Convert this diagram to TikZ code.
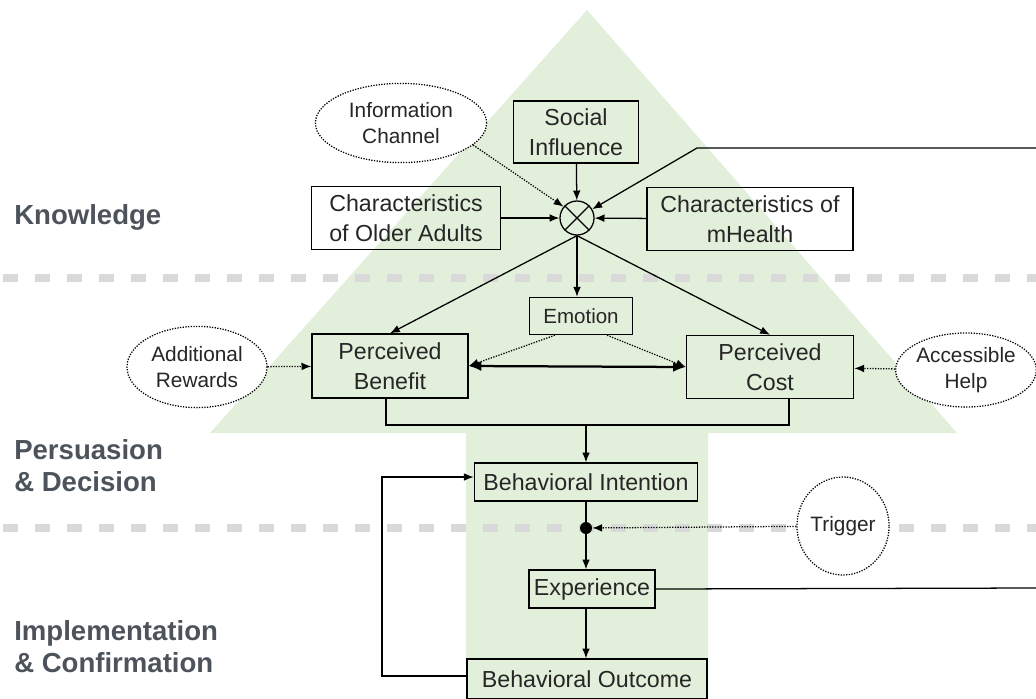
\documentclass[tikz,border=0pt]{standalone}
\usepackage{fontspec}
\setmainfont{Liberation Sans}
\usepackage{tikz}
\usetikzlibrary{arrows.meta,shapes.geometric,calc}

\begin{document}
\begin{tikzpicture}[x=0.025cm,y=-0.025cm,
    boxnode/.style={draw=black,line width=0.9pt,align=center,inner sep=2pt,text=black!85,font=\fontsize{16.5}{21}\selectfont},
    ovalnode/.style={ellipse,draw=black,densely dotted,line width=0.9pt,fill=white,align=center,inner sep=0pt,text=black!85,font=\fontsize{14.8}{18.8}\selectfont},
    phaselabel/.style={anchor=west,align=left,inner sep=0pt,text=labelgray,font=\fontsize{19.6}{22.8}\selectfont\bfseries},
    conn/.style={line width=0.9pt,-{Latex[length=7pt,width=5.5pt]}},
    dotconn/.style={line width=0.9pt,densely dotted,-{Latex[length=7pt,width=5.5pt]}},
    phaseline/.style={line width=0.2cm,draw=dashgray,dash pattern=on 0.375cm off 0.425cm}]

        % Define colors
        \definecolor{arrowgreen}{RGB}{226,239,218} % big arrow
        \definecolor{dashgray}{RGB}{217,217,217} % phase separators
        \definecolor{labelgray}{RGB}{77,83,91} % phase names

        % Fix the page size
        \useasboundingbox (0,0) rectangle (1036,698);

        % Big background arrow
        \fill[arrowgreen] (587,10) -- (957,433) -- (708,433) -- (708,698) -- (466,698) -- (466,433) -- (210,433) -- cycle;

        % Phase separators
        \draw[phaseline] (3,278) -- (1036,278);
        \draw[phaseline] (3,528) -- (1036,528);

        % Phase names
        \node[phaselabel] (know) at (14,217) {Knowledge};
        \node[phaselabel] (persu) at (14,466) {Persuasion\\\& Decision};
        \node[phaselabel] (impl) at (14,647) {Implementation\\\& Confirmation};

        % Knowledge factors
        \node[ovalnode,minimum width=4.28cm,minimum height=1.98cm] (info) at (401,123) {Information\\Channel};
        \node[boxnode,minimum width=3.13cm,minimum height=1.55cm] (social) at (576,132) {Social\\Influence};
        \node[boxnode,minimum width=4.73cm,minimum height=1.58cm] (older) at (406,218) {Characteristics\\of Older Adults};
        \node[boxnode,minimum width=5.15cm,minimum height=1.58cm] (mhealth) at (750,219) {Characteristics of\\mHealth};
        \node[circle,draw=black,line width=0.9pt,minimum size=0.85cm,inner sep=0pt] (circ) at (577,218) {};
        \draw[line width=0.9pt] (circ.45) -- (circ.225) (circ.135) -- (circ.-45); % cross

        % Persuasion factors
        \node[boxnode,minimum width=2.58cm,minimum height=0.93cm,font=\fontsize{14.6}{18}\selectfont] (emotion) at (581,316) {Emotion};
        \node[boxnode,minimum width=3.9cm,minimum height=1.6cm] (benefit) at (390,366) {Perceived\\Benefit};
        \node[boxnode,minimum width=4.18cm,minimum height=1.58cm] (cost) at (770,367) {Perceived\\Cost};
        \node[ovalnode,minimum width=3.5cm,minimum height=2.03cm] (rewards) at (197,367) {Additional\\Rewards};
        \node[ovalnode,minimum width=3.5cm,minimum height=1.85cm] (help) at (966,370) {Accessible\\Help};

        % Decision and use
        \node[boxnode,minimum width=5.58cm,minimum height=0.95cm] (intention) at (586,482) {Behavioral Intention};
        \node[circle,fill=black,minimum size=0.3cm,inner sep=0pt] (dot) at (586,528) {};
        \node[ovalnode,minimum width=2.2cm,minimum height=2.45cm] (trigger) at (843,526) {Trigger};
        \node[boxnode,minimum width=3.15cm,minimum height=0.95cm] (experience) at (592,589) {Experience};
        \node[boxnode,minimum width=6.0cm,minimum height=1.0cm] (outcome) at (587,679) {Behavioral Outcome};

        % Helper points
        \coordinate (rin) at (1036,148); % feedback entering from right
        \coordinate (rbend) at (697,148);
        \coordinate (join) at (586,425);
        \coordinate (eout) at (1036,588); % experience leaving to right
        \coordinate (loopb) at (382,676);

        % Knowledge connectors
        \draw[conn] (social) -- (circ);
        \draw[conn] (older) -- (circ);
        \draw[conn] (mhealth) -- (circ);
        \draw[dotconn] (info.-17) -- (circ.140);
        \draw[conn] (rin) -- (rbend) -- (circ.30);

        % Persuasion connectors
        \draw[conn] (circ.south) -- (circ.south |- emotion.north);
        \draw[conn] (circ.south) -- (benefit.north);
        \draw[conn] (circ.south) -- (cost.north);
        \draw[dotconn] ($(emotion.south)!0.5!(emotion.south west)$) -- (benefit.east);
        \draw[dotconn] ($(emotion.south)!0.5!(emotion.south east)$) -- (cost.west);
        \draw[line width=1.6pt,{Latex[length=9pt,width=7pt]}-{Latex[length=9pt,width=7pt]}] (benefit.east) -- (cost.west);
        \draw[dotconn] (rewards) -- (benefit);
        \draw[dotconn] (help) -- (cost);
        \draw[line width=0.9pt] ([xshift=-0.1cm]benefit.south) |- (join) -| ([xshift=0.475cm]cost.south);
        \draw[conn] (join) -- (intention.north);

        % Implementation connectors
        \draw[line width=0.9pt] (intention) -- (dot);
        \draw[conn] (dot) -- (dot |- experience.north);
        \draw[dotconn] (trigger) -- (dot);
        \draw[conn] (experience.south -| dot) -- (outcome.north -| dot);
        \draw[line width=0.9pt] (experience.east) -- (eout);
        \draw[conn] (outcome.west |- loopb) -- (loopb) |- ([yshift=0.125cm]intention.west);
        \end{tikzpicture}
\end{document}
